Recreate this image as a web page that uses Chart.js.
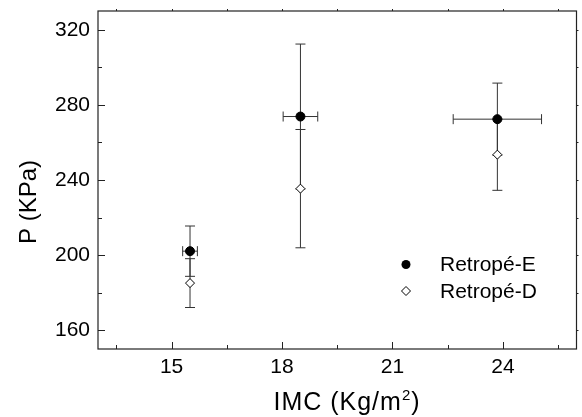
<!DOCTYPE html>
<html>
<head>
<meta charset="utf-8">
<script src="https://cdn.jsdelivr.net/npm/chart.js@4"></script>
<style>
    body { margin: 0; background: #fff; }
    #chart-box { width: 582px; height: 417px; }
</style>
</head>
<body>
<div id="chart-box"><canvas id="chart1"></canvas></div>
<script>
// data
const seriesNames = ['Retropé-E', 'Retropé-D'];
const imc = [15.5, 18.5, 23.85];
const imcErr = [0.2, 0.47, 1.2];
const presE = [202.1, 273.8, 272.4];
const presEErr = [13.4, 38.6, 19.2];
const presD = [185.1, 235.4, 253.5];
const presDErr = [13, 31.5, 19];
const xTicks = [15, 18, 21, 24];
const xMinor = [13.5, 16.5, 19.5, 22.5, 25.5];
const yTicks = [160, 200, 240, 280, 320];
const yMinor = [180, 220, 260, 300];

const FONT = "'Liberation Sans', Arial, sans-serif";
const INK = '#000';

const toPoints = (xs, ys) => xs.map((x, i) => ({x: x, y: ys[i]}));

// error bars, inward ticks, frame, axis titles and the legend
const extras = {
    id: 'extras',
    beforeDatasetsDraw(chart) {
        const ctx = chart.ctx;
        const xs = chart.scales.x;
        const ys = chart.scales.y;
        const cap = 5;
        ctx.save();
        ctx.strokeStyle = '#333';
        ctx.lineWidth = 1;
        const vbar = (x, y, e) => {
            const px = xs.getPixelForValue(x);
            const top = ys.getPixelForValue(y + e);
            const bot = ys.getPixelForValue(y - e);
            ctx.beginPath();
            ctx.moveTo(px, top); ctx.lineTo(px, bot);
            ctx.moveTo(px - cap, top); ctx.lineTo(px + cap, top);
            ctx.moveTo(px - cap, bot); ctx.lineTo(px + cap, bot);
            ctx.stroke();
        };
        const hbar = (x, y, e) => {
            const py = ys.getPixelForValue(y);
            const l = xs.getPixelForValue(x - e);
            const r = xs.getPixelForValue(x + e);
            ctx.beginPath();
            ctx.moveTo(l, py); ctx.lineTo(r, py);
            ctx.moveTo(l, py - cap); ctx.lineTo(l, py + cap);
            ctx.moveTo(r, py - cap); ctx.lineTo(r, py + cap);
            ctx.stroke();
        };
        imc.forEach((x, i) => {
            vbar(x, presD[i], presDErr[i]);
            vbar(x, presE[i], presEErr[i]);
            hbar(x, presE[i], imcErr[i]);
        });
        ctx.restore();
    },
    afterDraw(chart) {
        const ctx = chart.ctx;
        const a = chart.chartArea;
        const xs = chart.scales.x;
        const ys = chart.scales.y;
        ctx.save();
        ctx.strokeStyle = '#222';
        ctx.lineWidth = 1.2;
        ctx.strokeRect(a.left, a.top, a.right - a.left, a.bottom - a.top);
        ctx.lineWidth = 1;
        ctx.beginPath();
        xTicks.concat(xMinor).forEach(v => {
            const px = Math.round(xs.getPixelForValue(v)) + 0.5;
            const len = xTicks.includes(v) ? 7 : 4;
            ctx.moveTo(px, a.bottom); ctx.lineTo(px, a.bottom - len);
            ctx.moveTo(px, a.top); ctx.lineTo(px, a.top - 2);
        });
        yTicks.concat(yMinor).forEach(v => {
            const py = Math.round(ys.getPixelForValue(v)) + 0.5;
            const len = yTicks.includes(v) ? 7 : 4;
            ctx.moveTo(a.left, py); ctx.lineTo(a.left + len, py);
            ctx.moveTo(a.right, py); ctx.lineTo(a.right + 2, py);
        });
        ctx.stroke();

        // x title with a raised 2
        ctx.fillStyle = INK;
        ctx.textBaseline = 'alphabetic';
        ctx.textAlign = 'left';
        ctx.letterSpacing = '1px';
        ctx.font = '25px ' + FONT;
        const t1 = 'IMC (Kg/m';
        const w1 = ctx.measureText(t1).width;
        const w3 = ctx.measureText(')').width;
        ctx.font = '15px ' + FONT;
        const w2 = ctx.measureText('2').width;
        let tx = 347 - (w1 + w2 + w3) / 2;
        ctx.font = '25px ' + FONT;
        ctx.fillText(t1, tx, 410);
        ctx.font = '15px ' + FONT;
        ctx.fillText('2', tx + w1, 400);
        ctx.font = '25px ' + FONT;
        ctx.fillText(')', tx + w1 + w2, 410);
        ctx.letterSpacing = '0px';

        // y title
        ctx.font = '24px ' + FONT;
        ctx.textAlign = 'center';
        ctx.save();
        ctx.translate(35.5, 202);
        ctx.rotate(-Math.PI / 2);
        ctx.fillText('P (KPa)', 0, 0);
        ctx.restore();

        // legend
        ctx.font = '21px ' + FONT;
        ctx.textAlign = 'left';
        ctx.fillText(seriesNames[0], 440, 271);
        ctx.fillText(seriesNames[1], 440, 297.5);
        ctx.fillStyle = '#000';
        ctx.beginPath();
        ctx.arc(406, 264.5, 4.5, 0, Math.PI * 2);
        ctx.fill();
        ctx.fillStyle = '#fff';
        ctx.strokeStyle = '#000';
        ctx.beginPath();
        ctx.moveTo(406, 286.5); ctx.lineTo(410.5, 291); ctx.lineTo(406, 295.5); ctx.lineTo(401.5, 291);
        ctx.closePath();
        ctx.fill();
        ctx.stroke();
        ctx.restore();
    }
};

const ctx1 = document.getElementById('chart1');
const chart1 = new Chart(ctx1, {
    type: 'scatter',
    data: {
        datasets: [{
            label: seriesNames[1],
            data: toPoints(imc, presD),
            pointStyle: 'rectRot',
            pointRadius: 4.5,
            backgroundColor: '#fff',
            borderColor: '#000',
            borderWidth: 1
        }, {
            label: seriesNames[0],
            data: toPoints(imc, presE),
            pointStyle: 'circle',
            pointRadius: 4.5,
            backgroundColor: '#000',
            borderColor: '#000',
            borderWidth: 1
        }]
    },
    options: {
        responsive: true,
        maintainAspectRatio: false,
        animation: false,
        layout: {padding: {top: 11, right: 3, left: 0, bottom: 0}},
        plugins: {
            legend: {display: false},
            tooltip: {enabled: false}
        },
        scales: {
            x: {
                type: 'linear',
                min: 13,
                max: 26,
                grid: {display: false, drawTicks: false},
                border: {display: false},
                afterBuildTicks: s => { s.ticks = xTicks.map(v => ({value: v})); },
                afterFit: s => { s.height = 68; s.paddingLeft = 0; s.paddingRight = 0; },
                ticks: {padding: 6, color: INK, font: {family: FONT, size: 21}}
            },
            y: {
                min: 150,
                max: 330,
                grid: {display: false, drawTicks: false},
                border: {display: false},
                afterBuildTicks: s => { s.ticks = yTicks.map(v => ({value: v})); },
                afterFit: s => { s.width = 98; s.paddingTop = 0; s.paddingBottom = 0; },
                ticks: {padding: 8, color: INK, font: {family: FONT, size: 21}}
            }
        }
    },
    plugins: [extras]
});
</script>
</body>
</html>
